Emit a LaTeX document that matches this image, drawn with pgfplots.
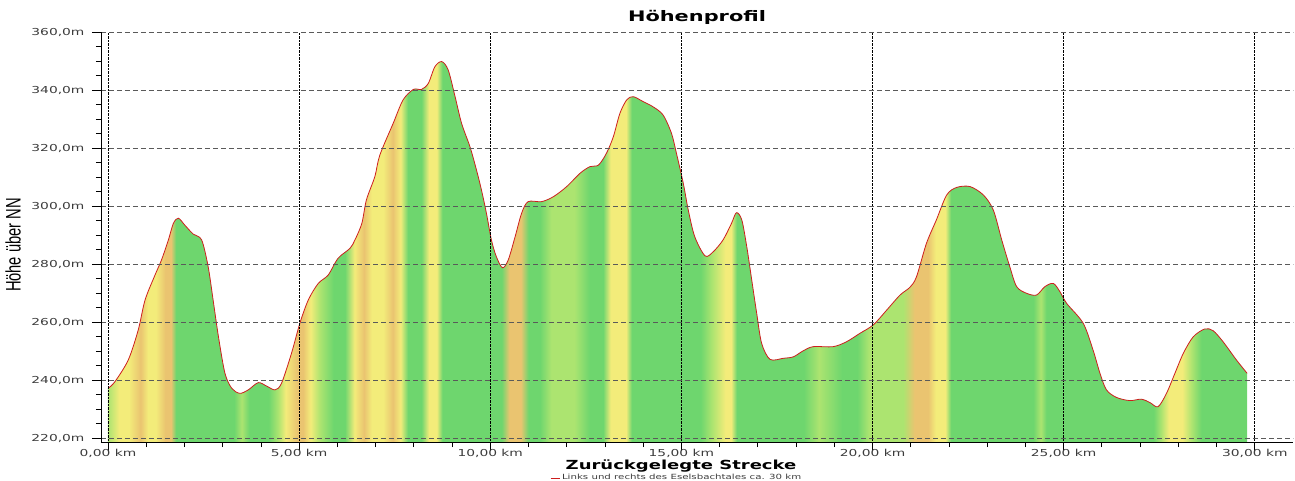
\documentclass[border=0pt]{standalone}
\usepackage{fontspec}
\setmainfont{DejaVu Sans}[FakeStretch=1.44]
\newfontfamily\ylabfont{Liberation Sans}[FakeStretch=0.7]
\usepackage{pgfplots}
\pgfplotsset{compat=1.18}
\usepackage{pgfplotstable}
\definecolor{pg}{RGB}{110,214,110}
\definecolor{plg}{RGB}{172,228,112}
\definecolor{py}{RGB}{243,236,122}
\definecolor{po}{RGB}{234,196,112}
\definecolor{gridgray}{RGB}{90,90,90}
\definecolor{ticktext}{RGB}{60,60,60}
\definecolor{linered}{RGB}{205,30,30}
\pgfdeclarehorizontalshading{profile}{100bp}{color(0bp)=(plg); color(25bp)=(plg); color(25.50bp)=(py); color(25.92bp)=(py); color(26.43bp)=(po); color(26.76bp)=(py); color(27.10bp)=(py); color(27.52bp)=(po); color(27.77bp)=(po); color(27.99bp)=(pg); color(30.54bp)=(pg); color(30.87bp)=(plg); color(31.21bp)=(pg); color(32.05bp)=(pg); color(32.47bp)=(plg); color(32.80bp)=(py); color(33.31bp)=(po); color(33.56bp)=(po); color(33.89bp)=(py); color(34.31bp)=(plg); color(34.90bp)=(pg); color(35.40bp)=(pg); color(35.82bp)=(py); color(36.24bp)=(po); color(36.58bp)=(py); color(37.08bp)=(py); color(37.50bp)=(po); color(37.84bp)=(py); color(38.17bp)=(pg); color(38.76bp)=(pg); color(39.09bp)=(py); color(39.43bp)=(py); color(39.68bp)=(pg); color(42.28bp)=(pg); color(42.62bp)=(po); color(43.12bp)=(po); color(43.46bp)=(pg); color(43.96bp)=(pg); color(44.46bp)=(plg); color(45.47bp)=(plg); color(46.14bp)=(pg); color(46.73bp)=(pg); color(47.06bp)=(py); color(47.74bp)=(py); color(47.99bp)=(pg); color(51.01bp)=(pg); color(51.51bp)=(plg); color(52.10bp)=(py); color(52.35bp)=(py); color(52.60bp)=(pg); color(55.54bp)=(pg); color(56.21bp)=(plg); color(57.22bp)=(pg); color(57.89bp)=(pg); color(58.39bp)=(plg); color(59.90bp)=(plg); color(60.40bp)=(po); color(60.99bp)=(po); color(61.33bp)=(py); color(61.75bp)=(py); color(62.00bp)=(pg); color(65.61bp)=(pg); color(65.94bp)=(plg); color(66.19bp)=(pg); color(70.89bp)=(pg); color(71.23bp)=(plg); color(71.56bp)=(py); color(72.15bp)=(py); color(72.57bp)=(plg); color(72.99bp)=(pg); color(75bp)=(pg); color(100bp)=(pg)}

\pgfplotstableread{
km h
0.00 237.1
0.18 239.4
0.53 246.9
0.79 257.2
0.97 267.6
1.23 276.2
1.40 281.4
1.58 288.3
1.71 294.0
1.84 295.8
2.01 293.4
2.23 290.3
2.45 288.3
2.62 279.1
2.75 267.6
2.89 254.9
3.06 242.3
3.24 237.1
3.45 235.4
3.67 236.6
3.93 239.1
4.15 237.9
4.37 236.6
4.54 238.9
4.80 249.2
5.02 259.6
5.24 267.6
5.50 273.3
5.76 276.2
6.02 282.0
6.33 285.4
6.46 288.3
6.64 294.0
6.76 302.1
6.98 310.1
7.11 317.5
7.46 328.5
7.72 336.6
7.99 340.2
8.20 340.2
8.38 342.3
8.55 348.0
8.73 349.8
8.90 346.9
9.08 337.7
9.25 328.5
9.47 320.4
9.64 312.4
9.77 305.5
9.90 297.5
10.03 288.3
10.16 282.5
10.32 278.7
10.47 281.4
10.65 289.4
10.82 297.5
10.99 301.5
11.34 301.5
11.65 303.2
12.00 306.7
12.35 311.3
12.61 313.6
12.83 314.1
13.04 318.2
13.22 323.9
13.39 331.9
13.57 336.6
13.74 337.7
14.00 336.0
14.26 334.2
14.52 331.4
14.74 325.1
14.87 318.2
15.05 307.8
15.18 298.6
15.35 289.4
15.62 282.8
15.83 284.2
16.09 288.3
16.31 294.0
16.44 297.7
16.58 295.2
16.71 286.0
16.84 274.5
16.97 263.0
17.10 252.6
17.32 247.1
17.67 247.5
17.93 248.0
18.19 250.1
18.45 251.5
18.97 251.5
19.32 253.2
19.67 256.1
20.02 259.0
20.37 264.1
20.72 269.3
20.98 272.0
21.15 275.6
21.41 287.1
21.67 295.2
21.94 303.8
22.20 306.4
22.55 306.7
22.90 303.8
23.16 298.6
23.38 288.3
23.59 279.1
23.77 272.2
24.03 269.9
24.29 269.3
24.51 272.2
24.73 273.3
24.90 270.5
25.08 266.4
25.51 259.6
25.77 250.3
25.95 242.3
26.12 236.6
26.38 234.0
26.73 232.9
27.04 233.4
27.26 232.2
27.47 230.8
27.69 235.4
27.91 242.3
28.13 249.2
28.39 254.9
28.69 257.6
28.91 257.0
29.17 253.2
29.52 246.9
29.80 242.3
}\profile

\begin{document}
\begin{tikzpicture}
\begin{axis}[
  scale only axis, width=1192pt, height=410pt,
  xmin=-0.183, xmax=31.0, ymin=218.62, ymax=360,
  axis x line*=bottom, axis y line*=left,
  axis line style={-, black, line width=0.9pt},
  xtick={0,5,...,30},
  xticklabels={{0,00 km},{5,00 km},{10,00 km},{15,00 km},{20,00 km},{25,00 km},{30,00 km}},
  ytick={220,240,...,360},
  yticklabels={{220,0m},{240,0m},{260,0m},{280,0m},{300,0m},{320,0m},{340,0m},{360,0m}},
  minor x tick num=4, minor y tick num=3,
  tick align=outside, major tick length=9pt, minor tick length=5pt,
  tick style={black, line width=0.8pt},
  xmajorgrids, ymajorgrids,
  x grid style={densely dotted, black, line width=0.9pt},
  y grid style={dash pattern=on 5pt off 3pt, gridgray, line width=0.8pt},
  tick label style={font=\fontsize{9.6}{11}\selectfont, text=ticktext},
  xticklabel style={yshift=5pt},
  yticklabel style={xshift=-4pt},
  /pgf/number format/assume math mode=true,
  every axis title shift=0pt,
  title={Höhenprofil},
  title style={font=\bfseries\fontsize{14.5}{16}\selectfont, at={(axis description cs:0.5,1.0366)}, anchor=center},
  xlabel={Zurückgelegte Strecke},
  xlabel style={font=\bfseries\fontsize{12.5}{14}\selectfont, at={(axis description cs:0.4866,-0.0586)}, anchor=center},
  ylabel={Höhe über NN},
  ylabel style={font=\ylabfont\fontsize{21}{22}\selectfont, at={(axis description cs:-0.0738,0.4805)}, anchor=center},
  axis on top,
  legend style={at={(axis description cs:0.3767,-0.0878)}, anchor=west, draw=none, fill=none, inner sep=0pt, font=\fontsize{7.1}{8}\selectfont, text=ticktext},
  legend image code/.code={\draw[linered, line width=0.8pt] (0pt,0pt) -- (9pt,0pt);},
]
\addplot[draw=none, shading=profile, forget plot, smooth, tension=0.5] table[x=km, y=h] {\profile} \closedcycle;
\addplot[linered, line width=0.8pt, smooth, tension=0.5] table[x=km, y=h] {\profile};
\addlegendentry{Links und rechts des Eselsbachtales ca. 30 km}
\end{axis}
\pgfresetboundingbox
\path[use as bounding box] (current axis.south west) ++(-101pt,-38pt) rectangle ++(1295pt,480pt);
\end{tikzpicture}
\end{document}
